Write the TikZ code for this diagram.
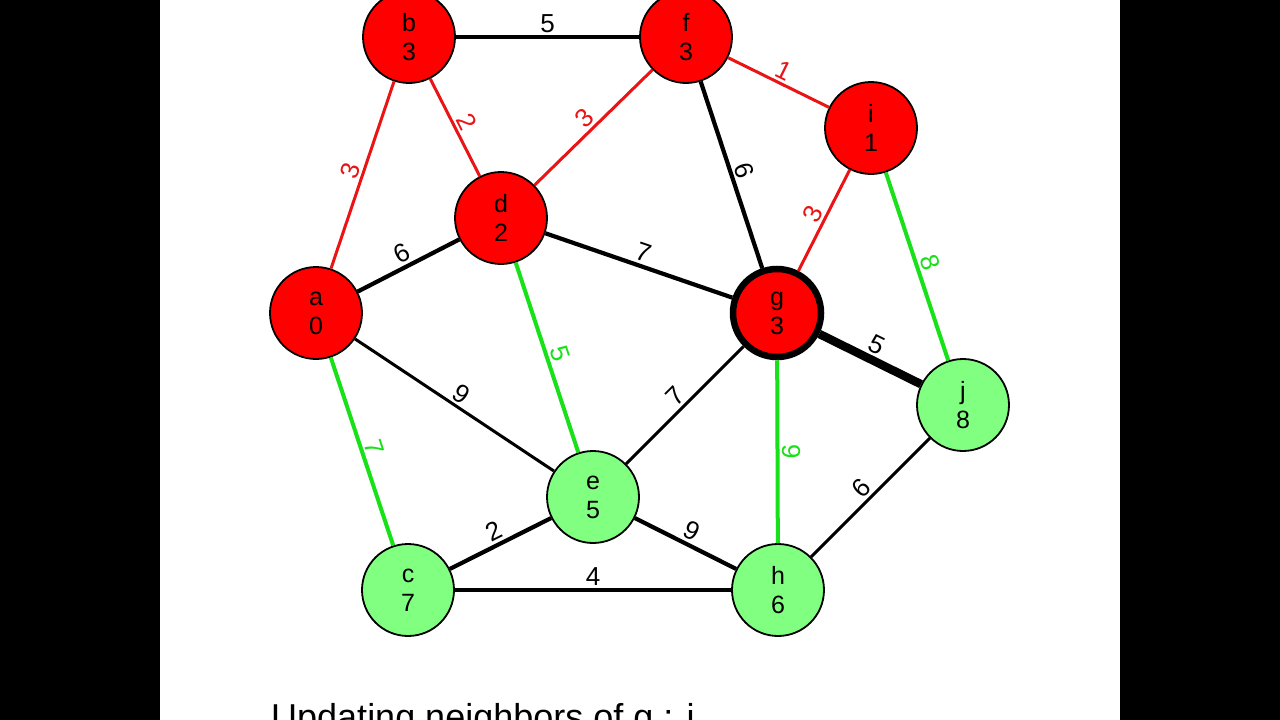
\documentclass[tikz,border=0pt]{standalone}
\usepackage{fontspec}
\setmainfont{Liberation Sans}
\definecolor{nred}{RGB}{255,0,0}
\definecolor{ered}{RGB}{235,20,20}
\definecolor{egreen}{RGB}{25,225,25}
\definecolor{ngreen}{RGB}{128,255,128}
\tikzset{
  vtx/.style={circle, draw=black, line width=1.8pt, minimum size=92pt, inner sep=0pt,
    align=center, font=\fontsize{25}{28}\selectfont},
  redv/.style={vtx, fill=nred},
  greenv/.style={vtx, fill=ngreen},
  wlab/.style={midway, sloped, above, inner sep=2.5pt, font=\fontsize{26}{28}\selectfont},
  blk/.style={draw=black, line width=4.2pt},
  blkthin/.style={draw=black, line width=3pt},
  rede/.style={draw=ered, line width=3pt, every node/.style={text=ered}},
  grne/.style={draw=egreen, line width=4pt, every node/.style={text=egreen}},
}
\begin{document}
\begin{tikzpicture}[x=1pt, y=-1pt]
\useasboundingbox (0,0) rectangle (1280,720);
\fill[black] (0,0) rectangle (1280,720);
\fill[white] (160,0) rectangle (1120,720);

\node[redv] (b) at (409,37) {b\\[1pt]3};
\node[redv] (f) at (686,37) {f\\[1pt]3};
\node[redv] (i) at (871,128) {i\\[1pt]1};
\node[redv] (d) at (501,218) {d\\[1pt]2};
\node[redv] (a) at (316,313) {a\\[1pt]0};
\node[redv, line width=6.5pt, minimum size=88pt] (g) at (777,313) {g\\[1pt]3};
\node[greenv] (j) at (963,405) {j\\[1pt]8};
\node[greenv] (e) at (593,497) {e\\[1pt]5};
\node[greenv] (c) at (408,590) {c\\[1pt]7};
\node[greenv] (h) at (778,590) {h\\[1pt]6};

\path[blk] (b) -- node[wlab]{5} (f);
\path[rede] (a) -- node[wlab]{3} (b);
\path[rede] (b) -- node[wlab]{2} (d);
\path[rede] (d) -- node[wlab]{3} (f);
\path[rede] (f) -- node[wlab]{1} (i);
\path[rede] (g) -- node[wlab]{3} (i);
\path[blk] (f) -- node[wlab]{6} (g);
\path[grne] (i) -- node[wlab]{8} (j);
\path[blk] (a) -- node[wlab]{6} (d);
\path[blk] (d) -- node[wlab]{7} (g);
\path[grne] (d) -- node[wlab]{5} (e);
\path[grne] (a) -- node[wlab]{7} (c);
\path[blkthin] (a) -- node[wlab]{9} (e);
\path[blkthin] (e) -- node[wlab]{7} (g);
\path[grne] (g) -- node[wlab]{9} (h);
\path[draw=black, line width=8.5pt] (g) -- node[wlab]{5} (j);
\path[blkthin] (h) -- node[wlab]{6} (j);
\path[blk] (c) -- node[wlab]{2} (e);
\path[blk] (e) -- node[wlab]{9} (h);
\path[blk] (c) -- node[wlab]{4} (h);

\node[anchor=base west, inner sep=0pt, font=\fontsize{36}{40}\selectfont] (cap) at (271,729) {Updating neighbors of g : i};
\end{tikzpicture}
\end{document}
